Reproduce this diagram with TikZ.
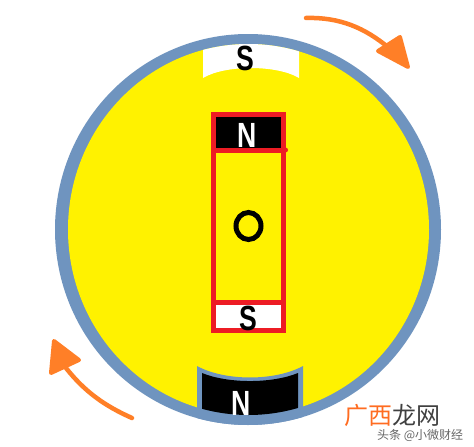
\documentclass[tikz,border=0pt]{standalone}
\usepackage{fontspec}
\setmainfont{Liberation Sans}
\newfontfamily\cjk{Noto Sans CJK SC}
\definecolor{rim}{HTML}{6F94BF}
\definecolor{disc}{HTML}{FFF200}
\definecolor{frame}{HTML}{ED1C24}
\definecolor{spin}{HTML}{FF7F27}
\tikzset{
  x=1pt,y=-1pt,
  letter/.style={font=\fontsize{35}{35}\selectfont\bfseries,inner sep=0pt,xscale=0.76},
  framebar/.style={draw=frame,line width=5pt,line cap=rect},
  spinline/.style={draw=spin,line width=4.5pt,line cap=round},
  spinhead/.style={fill=spin,draw=spin,line width=4pt,line join=round},
}
\begin{document}
\begin{tikzpicture}
\useasboundingbox (0,0) rectangle (474,447);
\fill[white] (0,0) rectangle (474,447);

% outer rim and rotor disc
\fill[rim] (248,229.5) ellipse [x radius=193,y radius=195.5];
\fill[disc] (248.5,229.5) ellipse [x radius=180.5,y radius=185.5];

% stator pole S at the top
\begin{scope}
  \clip (248.5,229.5) ellipse [x radius=180.5,y radius=185.5];
  \fill[white] (203,30) -- (203,78) .. controls (225,64.7) and (277,64.7) .. (299,78) -- (299,30) -- cycle;
\end{scope}
\node[letter,text=black] (poleS) at (245,58) {S};

% stator pole N at the bottom
\begin{scope}
  \clip (248,229.5) ellipse [x radius=193,y radius=195.5];
  \fill[rim] (197,366) .. controls (225,381.3) and (275,381.3) .. (303,366) -- (303,430) -- (197,430) -- cycle;
\end{scope}
\begin{scope}
  \clip (248.5,229.5) ellipse [x radius=180.5,y radius=185.5];
  \fill[black] (202,373) .. controls (228,383.7) and (272,383.7) .. (298,373) -- (298,430) -- (202,430) -- cycle;
\end{scope}
\node[letter,text=white] (poleN) at (241,403) {N};

% rotor bar with its two coloured ends
\fill[black] (213.5,114.5) rectangle (283.5,150.5);
\fill[white] (213.5,302.5) rectangle (283.5,330.5);
\draw[framebar] (213.5,114.5) rectangle (283.5,330.5);
\draw[framebar] (213.5,150.5) -- (283.5,150.5);
\draw[framebar] (213.5,302.5) -- (283.5,302.5);
\fill[frame] (285.5,150) circle [radius=2.5];
\node[letter,text=white] (barN) at (247,135) {N};
\node[letter,text=black] (barS) at (248,318) {S};

% axis letter
\draw[black,line width=5pt] (248.5,226) ellipse [x radius=12.5,y radius=13.5];

% rotation arrows
\coordinate (topA) at (306,18);
\coordinate (topB) at (389,48);
\draw[spinline] (topA) .. controls (340,17) and (365,28) .. (topB);
\draw[spinhead] (400,37) -- (378,51) -- (408,67) -- cycle;
\coordinate (botA) at (132,418);
\coordinate (botB) at (66,368);
\draw[spinline] (botA) .. controls (105,406) and (85,392) .. (botB);
\draw[spinhead] (54,341) -- (79,360) -- (51,373) -- cycle;

% caption mark in the corner
\node[inner sep=0pt,anchor=west,font=\cjk\fontsize{24}{24}\selectfont] (brand) at (344,415) {\textcolor{spin!85!red}{广西}\textcolor{black!75}{龙网}};
\node[inner sep=0pt,anchor=west,font=\cjk\fontsize{12}{12}\selectfont,text=black!60] (byline) at (377,435) {头条 @小微财经};
\end{tikzpicture}
\end{document}
